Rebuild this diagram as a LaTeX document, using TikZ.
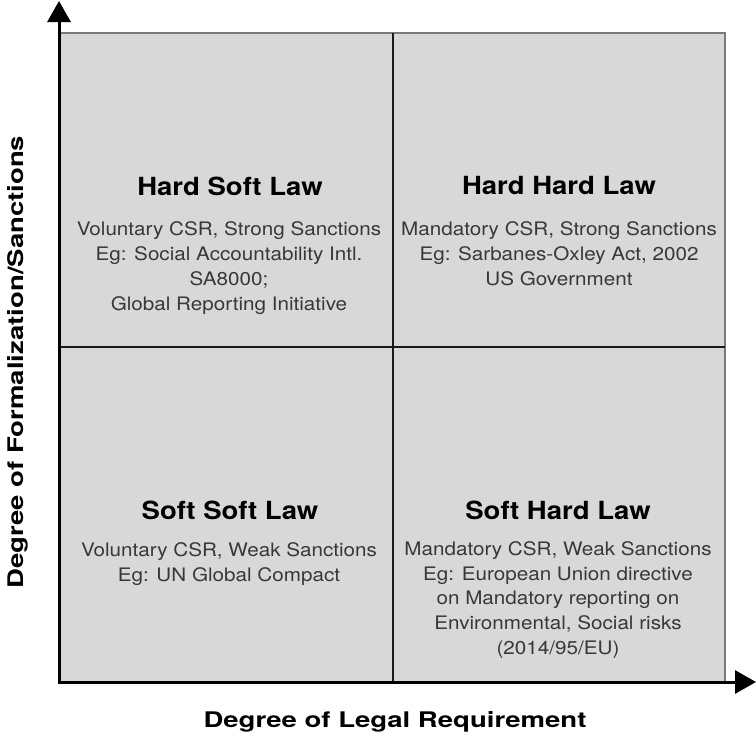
\documentclass[tikz,border=0pt]{standalone}
\usepackage{fontspec}
\setmainfont{TeX Gyre Heros}
\newfontfamily\bodyfont[FakeStretch=1.11]{TeX Gyre Heros}
\newfontfamily\titlefont[FakeStretch=1.1]{TeX Gyre Heros}
\newfontfamily\axisfont[FakeStretch=1.28]{TeX Gyre Heros}
\usetikzlibrary{arrows.meta}
\definecolor{quadfill}{HTML}{D8D8D8}
\definecolor{bodygray}{HTML}{383838}
\definecolor{edgegray}{HTML}{7A7A7A}
\tikzset{
  qtitle/.style={inner sep=0pt, font=\titlefont\bfseries\fontsize{25}{30}\selectfont, text=black},
  qbody/.style={inner sep=0pt, align=center, font=\bodyfont\fontsize{18.6}{24.9}\selectfont, text=bodygray},
  axislabel/.style={inner sep=0pt, font=\axisfont\bfseries\fontsize{21.5}{26}\selectfont, text=black},
  axisline/.style={line width=3pt, -{Triangle[length=21pt,width=23pt]}},
  divider/.style={line width=2.2pt, draw=black!90},
}
\begin{document}
\begin{tikzpicture}[x=1pt,y=-1pt]
\useasboundingbox (0,0) rectangle (756,736);
% quadrant area
\fill[quadfill, draw=edgegray, line width=1.2pt] (60,33) rectangle (725,682);
\coordinate (vtop) at (393,33);
\coordinate (vbot) at (393,682);
\coordinate (hleft) at (60,347);
\coordinate (hright) at (725,347);
\draw[divider] (vtop) -- (vbot);
\draw[divider] (hleft) -- (hright);
% axes
\coordinate (ystart) at (59,683.5);
\coordinate (xstart) at (57.5,682);
\coordinate (ytip) at (59,1);
\coordinate (xtip) at (756,682);
\draw[axisline] (ystart) -- (ytip);
\draw[axisline] (xstart) -- (xtip);
% quadrant texts
\node[qtitle] (hst) at (230,186) {Hard Soft Law};
\node[qbody] (hsb) at (229,268) {Voluntary CSR, Strong Sanctions\\Eg: Social Accountability Intl.\\SA8000;\\Global Reporting Initiative};
\node[qtitle] (hht) at (559,185) {Hard Hard Law};
\node[qbody] (hhb) at (559,254) {Mandatory CSR, Strong Sanctions\\Eg: Sarbanes-Oxley Act, 2002\\US Government};
\node[qtitle] (sst) at (230,510) {Soft Soft Law};
\node[qbody] (ssb) at (229,564) {Voluntary CSR, Weak Sanctions\\Eg: UN Global Compact};
\node[qtitle] (sht) at (558,510) {Soft Hard Law};
\node[qbody] (shb) at (558,600) {Mandatory CSR, Weak Sanctions\\Eg: European Union directive\\on Mandatory reporting on\\Environmental, Social risks\\(2014/95/EU)};
% axis labels
\node[axislabel] (xlab) at (395,722) {Degree of Legal Requirement};
\node[axislabel, rotate=90] (ylab) at (18,362) {Degree of Formalization/Sanctions};
\end{tikzpicture}
\end{document}
